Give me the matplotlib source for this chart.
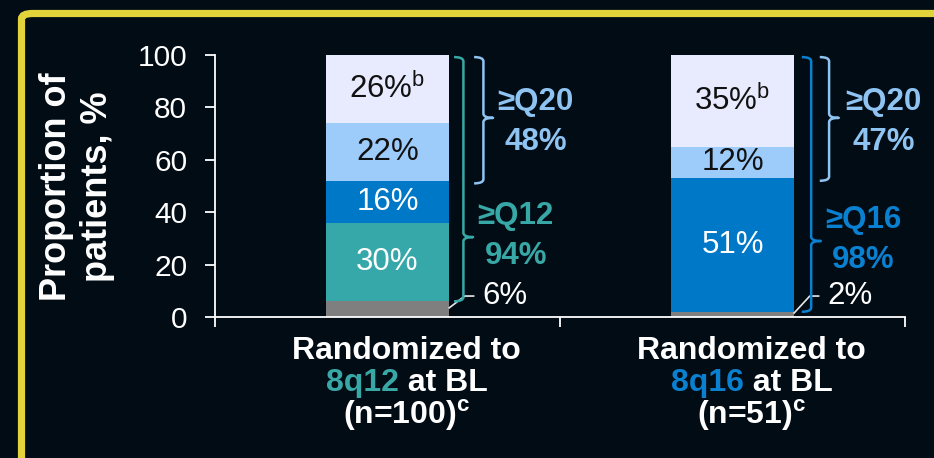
import matplotlib
matplotlib.use("Agg")
import matplotlib.pyplot as plt
from matplotlib.patches import FancyBboxPatch, PathPatch
from matplotlib.path import Path
from matplotlib.offsetbox import TextArea, HPacker, AnnotationBbox

plt.rcParams['font.family'] = ['Liberation Sans', 'DejaVu Sans']

# ---- data -------------------------------------------------------------
arms = ['8q12', '8q16']
arm_n = [100, 51]
# stacked segments from bottom to top (% of patients)
seg_8q12 = [6, 30, 16, 22, 26]
seg_8q16 = [2, 0, 51, 12, 35]
yticks = [0, 20, 40, 60, 80, 100]

# ---- style ------------------------------------------------------------
BG = '#020c15'
YELLOW = '#e3d33b'
seg_colors = ['#7f7f7f', '#36a8a9', '#0078c8', '#9dccfb', '#e8eafd']
seg_text = ['white', 'white', 'white', '#111111', '#111111']
TEAL_T = '#38a8a6'
BLUE_T = '#0a80d0'
LBLUE_T = '#8fc3f2'
arm_colors = [TEAL_T, BLUE_T]
FS = 22.5

W, H = 934, 458
fig = plt.figure(figsize=(W / 100, H / 100), dpi=100, facecolor=BG)

# rounded yellow frame running off the right/bottom edges
frame = FancyBboxPatch((21.5 / W, 1 - 600 / H), 1200 / W, (600 - 13.5) / H,
                       boxstyle='round,pad=0,rounding_size=0.012',
                       transform=fig.transFigure, fill=False,
                       edgecolor=YELLOW, linewidth=5.2, zorder=0)
fig.patches.append(frame)

ax = fig.add_axes([215 / W, 1 - 317 / H, 690 / W, 262 / H])
ax.set_facecolor(BG)
ax.set_xlim(0, 2)
ax.set_ylim(0, 100)
for s in ['top', 'right']:
    ax.spines[s].set_visible(False)
for s in ['left', 'bottom']:
    ax.spines[s].set_color('white')
    ax.spines[s].set_linewidth(1.3)
ax.set_xticks([0, 1, 2])
ax.set_xticklabels([])
ax.set_yticks(yticks)
ax.set_yticklabels([str(v) for v in yticks])
ax.tick_params(axis='both', colors='white', length=7, width=1.3,
               labelsize=21.5, direction='out')
ax.tick_params(axis='y', pad=13)

fig.text(77 / W, 1 - 187 / H, 'Proportion of\npatients, %', rotation=90,
         ha='center', va='center', multialignment='center',
         color='white', fontsize=26, fontweight='bold', linespacing=1.25)

# ---- stacked bars -----------------------------------------------------
xpos = [0.5, 1.5]
bw = 0.354
for xc, segs in zip(xpos, [seg_8q12, seg_8q16]):
    bottom = 0
    for i, v in enumerate(segs):
        if v > 0:
            ax.bar(xc, v, bw, bottom=bottom, color=seg_colors[i],
                   edgecolor='none', zorder=2)
            if i > 0:
                mid = bottom + v / 2
                if i == 4:
                    lab = f'{v}%' + r'$^{\mathregular{b}}$'
                else:
                    lab = f'{v}%'
                ax.text(xc, mid, lab, ha='center', va='center',
                        color=seg_text[i], fontsize=FS, zorder=3)
        bottom += v

# ---- leader for the small bottom segment ------------------------------
for xc, segs in zip(xpos, [seg_8q12, seg_8q16]):
    v = segs[0]
    x0 = xc + bw / 2
    ax.plot([x0, x0 + 0.047, x0 + 0.075], [v / 2 + 0.3, 8, 8],
            color='#e8e8e8', lw=1.2, zorder=4, clip_on=False,
            solid_capstyle='butt')
    ax.text(x0 + 0.097, 8, f'{v}%', ha='left', va='center', color='white',
            fontsize=FS)


def brace(x, y0, y1, ymid, color, hook=0.027, nub=0.028, ry=1.6):
    verts = [(x - hook, y1), (x, y1), (x, y1 - ry),
             (x, ymid + ry), (x, ymid), (x + nub, ymid),
             (x, ymid), (x, ymid - ry),
             (x, y0 + ry), (x, y0), (x - hook, y0)]
    codes = [Path.MOVETO, Path.CURVE3, Path.CURVE3,
             Path.LINETO, Path.CURVE3, Path.CURVE3,
             Path.CURVE3, Path.CURVE3,
             Path.LINETO, Path.CURVE3, Path.CURVE3]
    ax.add_patch(PathPatch(Path(verts, codes), fill=False, edgecolor=color,
                           lw=1.8, zorder=4, clip_on=False,
                           capstyle='butt', joinstyle='round'))


def brace_label(x, ymid, head, value, color):
    ax.text(x, ymid + 7.4, head, ha='center', va='center', color=color,
            fontsize=FS, fontweight='bold')
    ax.text(x, ymid - 7.6, f'{value}%', ha='center', va='center',
            color=color, fontsize=FS, fontweight='bold')


# ≥ lower threshold brace (everything above the grey segment)
for k, (xc, segs) in enumerate(zip(xpos, [seg_8q12, seg_8q16])):
    top = sum(segs)
    lo = segs[0]
    hi20 = segs[0] + segs[1] + segs[2]
    bx = xc + bw / 2 + 0.043 + 0.008 * k
    brace(bx, lo, top - 0.8, 30.5 - 1.5 * k, arm_colors[k])
    head = '≥Q12' if k == 0 else '≥Q16'
    brace_label(bx + 0.152, 30.5 - 1.5 * k + 0.5, head,
                top - lo, arm_colors[k])
    bx2 = bx + 0.058 - 0.006 * k
    brace(bx2, hi20 - 1.0, top - 0.8, 76, LBLUE_T)
    brace_label(bx2 + 0.152 + 0.006 * k, 74.5, '≥Q20', segs[3] + segs[4],
                LBLUE_T)

# ---- category labels --------------------------------------------------
for k, xc in enumerate(xpos):
    lines = [
        [('Randomized to', 'white')],
        [(arms[k], arm_colors[k]), (' at BL', 'white')],
        [(f'(n={arm_n[k]})' + r'$^{\mathregular{c}}$', 'white')],
    ]
    for j, parts in enumerate(lines):
        boxes = [TextArea(t, textprops=dict(color=c, fontsize=23,
                                            fontweight='bold'))
                 for t, c in parts]
        pack = HPacker(children=boxes, align='baseline', pad=0, sep=0)
        ab = AnnotationBbox(pack, (xc + 0.056, H - (351 + 32 * j)),
                            xycoords=('data', 'figure pixels'),
                            box_alignment=(0.5, 0.5), frameon=False,
                            pad=0, annotation_clip=False)
        ax.add_artist(ab)

fig.savefig('out.png', dpi=100, facecolor=BG)
